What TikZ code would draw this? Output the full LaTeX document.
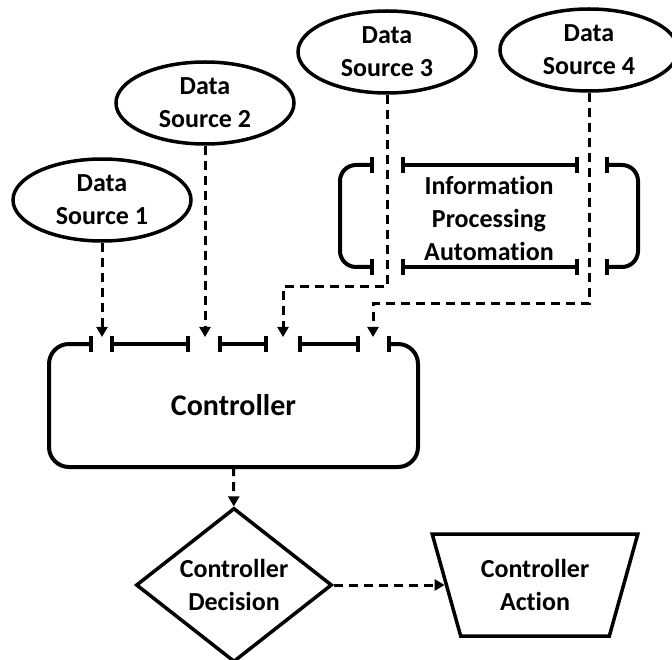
\documentclass[tikz,border=0pt]{standalone}
\usepackage{fontspec}
\setmainfont{Carlito}[Ligatures=NoCommon]
\usetikzlibrary{shapes.geometric,arrows.meta}
\begin{document}
\begin{tikzpicture}[x=1pt,y=-1pt,
  txt/.style={font=\bfseries\fontsize{26}{33}\selectfont, align=center},
  source/.style={txt, draw, ellipse, line width=3.5pt, minimum width=178pt, minimum height=82pt, inner sep=0pt},
  wall/.style={line width=4pt},
  tick/.style={line width=4pt},
  flow/.style={line width=3pt, dash pattern=on 9pt off 6pt, -{Triangle[length=10pt,width=11pt]}}
]
\useasboundingbox (0,0) rectangle (672,660);

% data sources
\node[source] (ds1) at (102,200) {Data\\Source 1};
\node[source] (ds2) at (205,103) {Data\\Source 2};
\node[source] (ds3) at (387,52) {Data\\Source 3};
\node[source] (ds4) at (589,50) {Data\\Source 4};

% controller (border drawn separately, with input gaps)
\node[txt, font=\bfseries\fontsize{30}{36}\selectfont, minimum width=369pt, minimum height=123pt, inner sep=0pt] (ctrl) at (233.5,405.5) {Controller};
\draw[wall, rounded corners=20pt] (91,344) -- (49,344) -- (49,467) -- (418,467) -- (418,344) -- (389,344);
\draw[wall] (112,344) -- (188,344);
\draw[wall] (220,344) -- (266,344);
\draw[wall] (300,344) -- (358,344);
\foreach \x in {91,112,188,220,266,300,358,389}
  \draw[tick] (\x,336) -- (\x,352);

% information processing block
\node[txt] (ipa) at (489,218) {Information\\Processing\\Automation};
\draw[wall, rounded corners=16pt] (372,165) -- (340,165) -- (340,267) -- (372,267);
\draw[wall, rounded corners=16pt] (607,165) -- (638,165) -- (638,267) -- (607,267);
\draw[wall] (403,165) -- (577,165);
\draw[wall] (403,267) -- (577,267);
\foreach \x in {372,403,577,607} {
  \draw[tick] (\x,157) -- (\x,173);
  \draw[tick] (\x,259) -- (\x,275);
}

% decision and action
\node[txt, draw, diamond, line width=3.5pt, aspect=1.27, minimum width=196pt, minimum height=154pt, inner sep=0pt] (dec) at (234,585) {Controller\\Decision};
\node[txt, draw, trapezium, shape border rotate=180, trapezium left angle=68, trapezium right angle=68, trapezium stretches=true, minimum width=206pt, minimum height=102pt, line width=3.5pt, inner sep=0pt] (act) at (535,585) {Controller\\Action};

% connectors
\coordinate (in1) at (102,337);
\coordinate (in2) at (205,337);
\coordinate (in3) at (283,337);
\coordinate (in4) at (373,337);
\coordinate (j3) at (283,287);
\coordinate (j4) at (373,304);
\draw[flow] (ds1) -- (in1);
\draw[flow] (ds2) -- (in2);
\draw[flow] (ds3) |- (j3) -- (in3);
\draw[flow] (ds4) |- (j4) -- (in4);
\draw[flow] (ctrl) -- (dec);
\draw[flow] (dec) -- (act);
\end{tikzpicture}
\end{document}
